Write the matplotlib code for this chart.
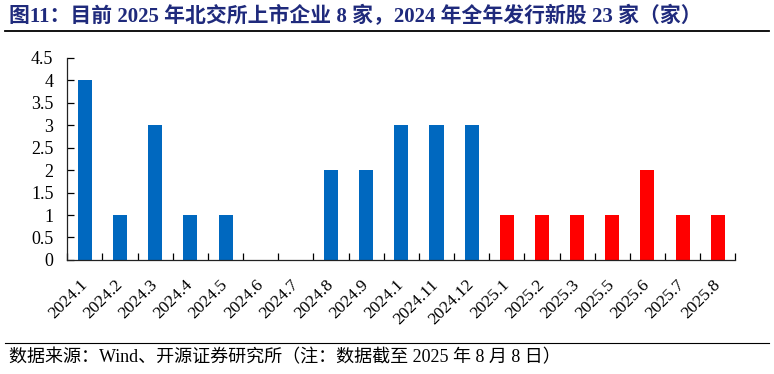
import matplotlib
matplotlib.use("Agg")
import matplotlib.pyplot as plt
from matplotlib.lines import Line2D
import numpy as np

# Data
months = ["2024.1", "2024.2", "2024.3", "2024.4", "2024.5", "2024.6", "2024.7",
          "2024.8", "2024.9", "2024.1", "2024.11", "2024.12",
          "2025.1", "2025.2", "2025.3", "2025.5", "2025.6", "2025.7", "2025.8"]
counts = [4, 1, 3, 1, 1, 0, 0, 2, 2, 3, 3, 3, 1, 1, 1, 1, 2, 1, 1]
years = [m.split(".")[0] for m in months]
ytick_labels = ["0", "0.5", "1", "1.5", "2", "2.5", "3", "3.5", "4", "4.5"]

BLUE = "#0068BF"
RED = "#FF0000"
TITLE_COLOR = "#1F2A7C"
FONT = ["Liberation Serif", "Noto Sans CJK SC"]

plt.rcParams["font.family"] = FONT

fig = plt.figure(figsize=(7.74, 3.74), dpi=100)
ax = fig.add_axes([0.087, 0.305, 0.863, 0.54])

x = np.arange(len(months))
colors = [BLUE if y == "2024" else RED for y in years]
ax.bar(x, counts, width=0.4, color=colors, zorder=2)

ax.set_xlim(-0.5, len(months) - 0.5)
ax.set_ylim(0, 4.5)
ax.set_yticks(np.arange(0, 4.51, 0.5))
ax.set_yticklabels(ytick_labels, fontsize=13)
ax.set_xticks(x)
ax.set_xticklabels(months, rotation=45, ha="right", va="center",
                   rotation_mode="anchor", fontsize=12.5)
ax.tick_params(axis="x", length=0, pad=16)
ax.set_xticks(np.arange(-0.5, len(months)), minor=True)
ax.tick_params(axis="x", which="minor", length=5, direction="in", width=0.9)
ax.tick_params(axis="y", length=5, direction="in", width=0.9, pad=10)

for s in ["top", "right"]:
    ax.spines[s].set_visible(False)
for s in ["left", "bottom"]:
    ax.spines[s].set_linewidth(0.9)
    ax.spines[s].set_color("#222222")

# Title and footer
fig.text(0.012, 0.955, "图11：目前 2025 年北交所上市企业 8 家，2024 年全年发行新股 23 家（家）",
         fontsize=15, fontweight="bold", color=TITLE_COLOR, va="center", ha="left")
fig.add_artist(Line2D([0.006, 0.994], [0.918, 0.918], color="black", lw=1.3))
fig.add_artist(Line2D([0.006, 0.994], [0.083, 0.083], color="black", lw=0.8))
fig.text(0.012, 0.043, "数据来源：Wind、开源证券研究所（注：数据截至 2025 年 8 月 8 日）",
         fontsize=13, color="black", va="center", ha="left")

fig.savefig("out.png", dpi=100)
